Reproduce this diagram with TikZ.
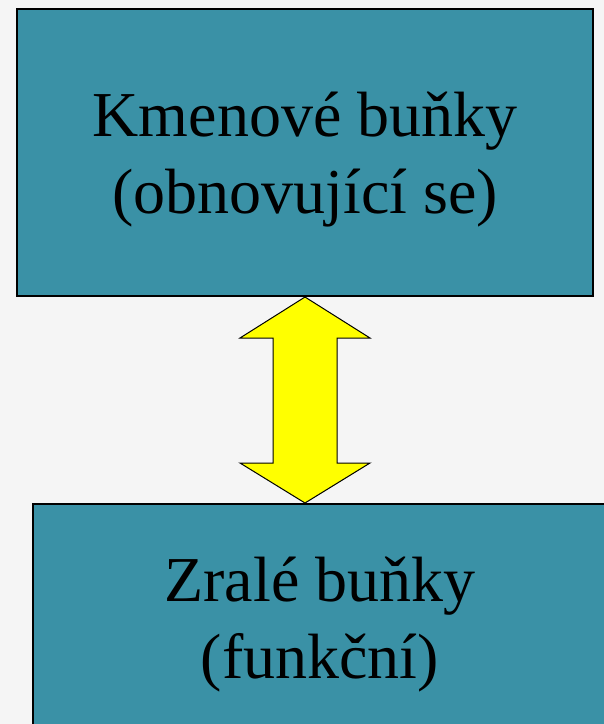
\documentclass[tikz,border=0pt]{standalone}
\usepackage{fontspec}
\setmainfont{Liberation Serif}
\usetikzlibrary{calc}

\definecolor{pagebg}{HTML}{F5F5F5}
\definecolor{cellteal}{HTML}{3A91A6}
\definecolor{arrowyellow}{HTML}{FFFF00}

\tikzset{
  cellbox/.style={draw=black, line width=2pt, fill=cellteal, inner sep=0pt},
  celltext/.style={align=center, font=\fontsize{64}{77}\selectfont, text=black, inner sep=0pt},
  dblarrow/.style={draw=black, line width=1pt, fill=arrowyellow, line join=miter}
}

\begin{document}
\begin{tikzpicture}[x=1pt, y=-1pt]
  % page area and background
  \fill[pagebg] (0,0) rectangle (604,724);
  \useasboundingbox (0,0) rectangle (604,724);
  \clip (0,0) rectangle (604,724);

  % self-renewing stem cells
  \node[cellbox, minimum width=576pt, minimum height=287pt,
    label={[celltext, yshift=-7pt]center:Kmenové buňky\\(obnovující se)}] (stem) at (305,152.5) {};

  % mature functional cells (runs past the page edge)
  \node[cellbox, minimum width=574pt, minimum height=223pt,
    label={[celltext, yshift=-9pt]center:Zralé buňky\\(funkční)}] (mature) at (320,615.5) {};

  % two-way arrow between the two cell types
  \coordinate (up) at (stem.south);
  \coordinate (down) at (stem.south |- mature.north);
  \draw[dblarrow]
    (up) -- ($(up)+(-65,41)$) -- ($(up)+(-32,41)$)
    -- ($(down)+(-32,-40)$) -- ($(down)+(-65,-40)$) -- (down)
    -- ($(down)+(65,-40)$) -- ($(down)+(32,-40)$)
    -- ($(up)+(32,41)$) -- ($(up)+(65,41)$) -- cycle;
\end{tikzpicture}
\end{document}
